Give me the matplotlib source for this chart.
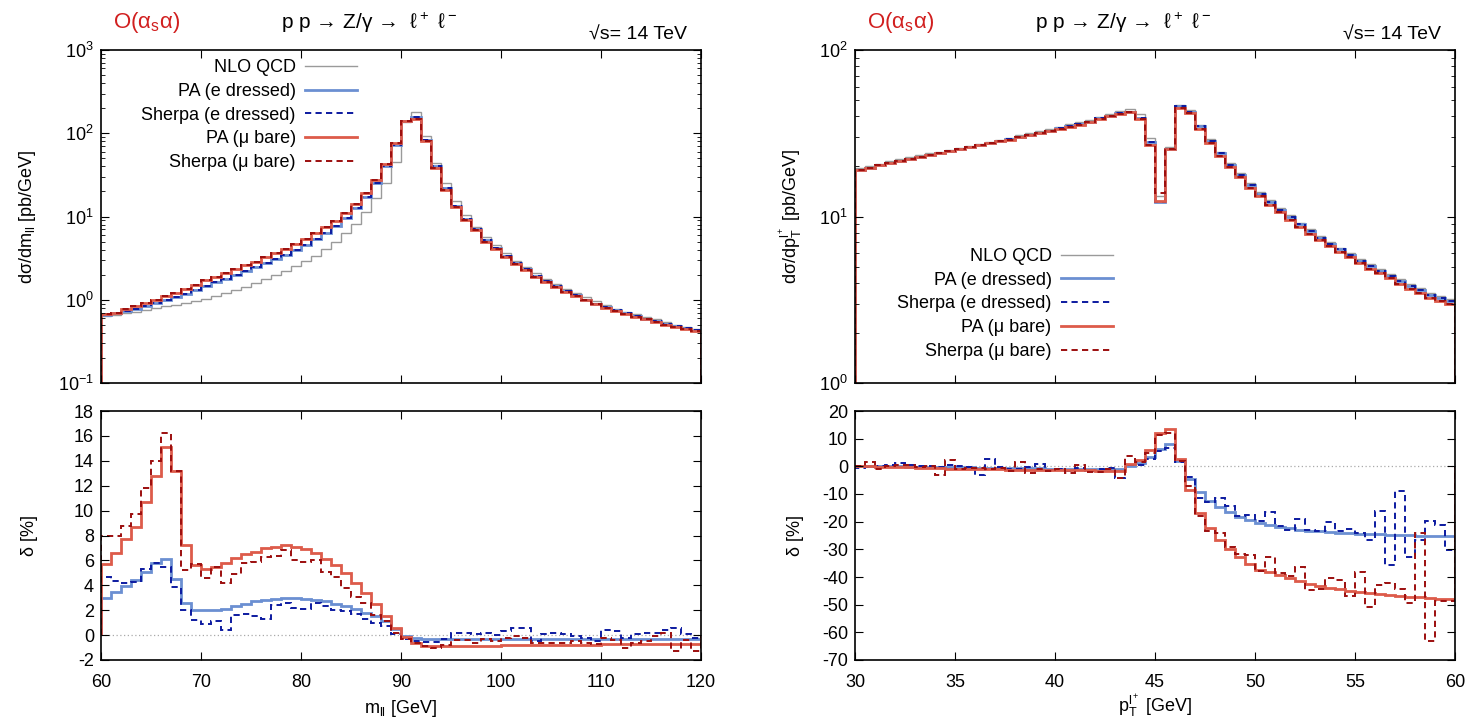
import numpy as np
import matplotlib.pyplot as plt
from matplotlib.lines import Line2D
from matplotlib.ticker import LogLocator, MultipleLocator, NullFormatter

plt.rcParams['font.family'] = ['Liberation Sans Narrow', 'Liberation Sans', 'DejaVu Sans']
plt.rcParams['mathtext.default'] = 'regular'
plt.rcParams['axes.unicode_minus'] = False

# ---- m_ll spectrum, 1 GeV bins from 60 to 120 ----
m_edges = np.arange(60, 121, 1)
nlo_m = [0.64, 0.66, 0.69, 0.72, 0.75, 0.79, 0.83, 0.87, 0.92, 0.97,
         1.03, 1.11, 1.20, 1.31, 1.44, 1.58, 1.76, 1.97, 2.22, 2.52,
         2.90, 3.40, 4.10, 5.00, 6.30, 8.20, 11.3, 16.5, 25.0, 45.0,
         135, 180, 92, 44, 25, 15.3, 10.3, 7.5, 5.7, 4.5,
         3.6, 2.95, 2.47, 2.08, 1.79, 1.55, 1.36, 1.20, 1.07, 0.96,
         0.86, 0.78, 0.72, 0.67, 0.62, 0.58, 0.54, 0.50, 0.47, 0.45]
pa_e_m = [0.66, 0.69, 0.73, 0.78, 0.84, 0.92, 1.00, 1.07, 1.18, 1.32,
          1.47, 1.62, 1.79, 1.98, 2.19, 2.44, 2.74, 3.09, 3.48, 3.97,
          4.55, 5.35, 6.40, 7.70, 9.60, 12.6, 17.2, 25.0, 40.0, 73.0,
          142, 158, 84, 40, 22, 13.5, 9.3, 7.0, 5.2, 4.15,
          3.33, 2.77, 2.31, 1.95, 1.68, 1.46, 1.27, 1.13, 1.00, 0.90,
          0.81, 0.75, 0.69, 0.64, 0.59, 0.55, 0.51, 0.48, 0.46, 0.43]
pa_mu_m = [0.68, 0.70, 0.77, 0.83, 0.91, 1.00, 1.10, 1.20, 1.35, 1.52,
           1.73, 1.89, 2.10, 2.33, 2.60, 2.88, 3.24, 3.67, 4.10, 4.70,
           5.40, 6.30, 7.50, 8.80, 11.0, 14.3, 19.1, 27.2, 42.5, 75.7,
           140, 150, 80, 38.5, 21, 13.0, 9.0, 6.8, 5.0, 4.05,
           3.24, 2.70, 2.25, 1.90, 1.64, 1.42, 1.24, 1.10, 0.98, 0.88,
           0.79, 0.73, 0.67, 0.62, 0.58, 0.54, 0.50, 0.47, 0.45, 0.42]
sh_e_m = list(pa_e_m)
sh_mu_m = list(pa_mu_m)

d_pa_e_m = [3.0, 3.5, 3.95, 4.4, 5.1, 5.8, 6.1, 4.5, 2.6, 2.0,
            2.0, 2.0, 2.1, 2.3, 2.5, 2.7, 2.8, 2.9, 2.95, 2.95,
            2.9, 2.8, 2.7, 2.5, 2.3, 2.1, 1.8, 1.5, 1.15, 0.5,
            -0.1, -0.25, -0.3, -0.3, -0.3, -0.3, -0.3, -0.3, -0.3, -0.3,
            -0.3, -0.3, -0.3, -0.3, -0.3, -0.3, -0.3, -0.3, -0.3, -0.3,
            -0.3, -0.3, -0.32, -0.32, -0.32, -0.33, -0.33, -0.33, -0.34, -0.35]
d_sh_e_m = [4.7, 4.35, 4.2, 4.3, 5.3, 5.8, 5.5, 3.9, 2.0, 1.2,
            0.9, 1.15, 0.4, 1.6, 1.7, 1.5, 1.3, 2.4, 2.6, 2.2,
            2.1, 2.6, 2.3, 2.0, 1.9, 1.7, 1.3, 1.0, 0.7, 0.1,
            -0.35, -0.5, -0.55, -0.55, -0.3, 0.2, 0.2, 0.1, 0.2, 0.0,
            0.3, 0.6, 0.55, -0.5, 0.1, 0.15, 0.1, -0.1, -0.25, -0.45,
            0.4, 0.35, -0.25, 0.1, 0.15, 0.15, 0.4, 0.6, 0.1, -0.25]
d_pa_mu_m = [5.7, 6.6, 7.7, 8.7, 10.7, 12.8, 15.1, 13.2, 7.2, 5.6,
             5.3, 5.5, 5.8, 6.2, 6.5, 6.7, 7.0, 7.1, 7.2, 7.1,
             6.9, 6.6, 6.1, 5.6, 5.0, 4.2, 3.4, 2.5, 1.5, 0.6,
             -0.15, -0.65, -0.85, -0.88, -0.88, -0.87, -0.86, -0.85, -0.85, -0.84,
             -0.83, -0.82, -0.81, -0.8, -0.8, -0.79, -0.78, -0.77, -0.77, -0.76,
             -0.75, -0.75, -0.74, -0.74, -0.73, -0.73, -0.72, -0.72, -0.71, -0.7]
d_sh_mu_m = [8.0, 7.95, 8.8, 9.7, 11.8, 14.0, 16.2, 13.2, 5.2, 5.7,
             4.6, 5.5, 4.2, 4.9, 5.8, 5.9, 6.3, 6.35, 6.8, 6.0,
             5.9, 6.0, 5.1, 4.7, 3.8, 3.1, 2.6, 1.6, 1.1, 0.2,
             -0.3, -0.6, -0.85, -1.05, -0.8, -0.4, -0.4, -0.6, -0.3, -0.45,
             -0.25, -0.1, -0.2, -0.6, -0.6, -0.6, -0.6, -0.45, -0.6, -0.7,
             -0.2, -0.4, -1.0, -0.6, -0.45, -0.05, 0.2, -1.25, -0.4, -1.3]

# ---- pT(l+) spectrum, 0.5 GeV bins from 30 to 60 ----
pt_edges = np.arange(30, 60.01, 0.5)
nlo_pt = [19.5, 20.0, 20.8, 21.4, 22.0, 22.7, 23.3, 23.9, 24.5, 25.2,
          25.9, 26.6, 27.4, 28.2, 29.0, 29.8, 30.7, 31.7, 32.6, 33.6,
          34.7, 35.8, 36.9, 38.1, 39.6, 41.3, 43.0, 44.2, 41.5, 29.5,
          13.2, 26.3, 46.5, 43.5, 35.5, 29.2, 24.5, 21.0, 18.2, 15.8,
          14.0, 12.5, 11.25, 10.15, 9.2, 8.37, 7.65, 7.05, 6.5, 6.04,
          5.58, 5.17, 4.84, 4.52, 4.19, 3.93, 3.70, 3.48, 3.32, 3.18]
pa_e_pt = [19.0, 19.6, 20.3, 21.0, 21.5, 22.2, 22.8, 23.4, 24.1, 24.7,
           25.3, 26.1, 26.8, 27.6, 28.4, 29.1, 30.0, 30.9, 31.8, 32.7,
           33.8, 34.8, 35.8, 36.9, 38.9, 40.4, 41.7, 42.6, 39.3, 28.0,
           12.2, 25.5, 45.8, 42.5, 34.8, 28.5, 23.9, 20.5, 17.8, 15.4,
           13.7, 12.2, 11.0, 9.9, 9.0, 8.17, 7.46, 6.87, 6.35, 5.88,
           5.43, 5.04, 4.72, 4.41, 4.08, 3.83, 3.60, 3.38, 3.23, 3.09]
pa_mu_pt = [19.1, 19.6, 20.4, 21.0, 21.5, 22.2, 22.8, 23.4, 24.0, 24.7,
            25.3, 26.0, 26.8, 27.5, 28.3, 29.0, 29.9, 30.8, 31.7, 32.6,
            33.6, 34.6, 35.6, 36.7, 38.5, 40.0, 41.2, 42.3, 38.3, 27.0,
            12.4, 25.5, 44.8, 41.6, 33.7, 27.6, 23.1, 19.8, 17.2, 14.9,
            13.2, 11.8, 10.6, 9.55, 8.67, 7.87, 7.20, 6.63, 6.12, 5.68,
            5.24, 4.86, 4.55, 4.25, 3.93, 3.69, 3.47, 3.26, 3.11, 2.98]
sh_e_pt = list(pa_e_pt)
sh_mu_pt = list(pa_mu_pt)
sh_mu_pt[30] = 13.8

d_pa_e_pt = [0.0, 0.1, 0.1, 0.1, 0.0, -0.1, -0.2, -0.2, -0.3, -0.3,
             -0.4, -0.4, -0.5, -0.5, -0.6, -0.6, -0.7, -0.7, -0.7, -0.8,
             -0.8, -0.8, -0.9, -0.9, -0.9, -1.0, -1.0, 0.3, 1.1, 3.2,
             6.4, 7.9, 1.8, -4.5, -9.3, -12.5, -14.6, -16.5, -18.3, -19.5,
             -20.6, -21.3, -21.9, -22.4, -22.9, -23.3, -23.5, -23.7, -24.0, -24.2,
             -24.3, -24.5, -24.6, -24.7, -24.8, -24.9, -25.0, -25.2, -25.2, -25.3]
d_sh_e_pt = [-0.7, -0.1, 0.3, 0.4, 1.3, 0.6, 0.1, 0.2, -0.2, 0.4,
             0.1, -0.1, -3.3, 2.5, -0.2, -1.1, -1.1, -0.1, 0.8, -1.3,
             -0.8, -1.6, -0.6, -1.6, -1.1, -0.6, -4.2, 0.4, 0.6, 2.8,
             5.5, 6.6, 1.5, -4.0, -11.6, -13.0, -11.5, -14.5, -18.0, -17.5,
             -19.8, -16.5, -21.5, -23.0, -18.9, -23.0, -23.3, -20.2, -23.3, -22.5,
             -24.0, -26.7, -16.2, -35.7, -9.0, -32.8, -26.7, -19.8, -21.3, -30.2]
d_pa_mu_pt = [0.0, 0.0, -0.1, -0.2, -0.3, -0.4, -0.5, -0.6, -0.7, -0.8,
              -0.8, -0.9, -1.0, -1.0, -1.1, -1.2, -1.2, -1.3, -1.3, -1.4,
              -1.4, -1.5, -1.5, -1.5, -1.6, -1.6, -1.6, 1.0, 2.2, 5.8,
              12.2, 13.4, 2.8, -8.7, -17.0, -22.2, -26.7, -30.0, -32.7, -35.2,
              -37.6, -38.3, -39.3, -40.2, -41.6, -42.6, -43.3, -44.0, -44.4, -44.9,
              -45.4, -45.7, -46.0, -46.4, -46.8, -47.1, -47.3, -47.6, -47.8, -48.0]
d_sh_mu_pt = [0.1, 1.6, -1.1, 0.0, 0.4, 0.6, -0.4, 0.1, -3.3, 2.3,
              -0.8, -0.5, -0.6, -1.1, -0.6, -1.7, 1.6, -2.3, -1.1, -1.8,
              -1.1, -2.3, 0.4, -2.0, -1.9, -1.1, -4.3, 3.8, 1.6, 5.0,
              11.5, 12.0, 2.0, -7.0, -17.8, -23.5, -24.2, -29.0, -31.7, -31.9,
              -38.0, -32.6, -38.6, -39.6, -36.5, -44.6, -44.3, -40.5, -41.0, -46.7,
              -38.3, -50.9, -42.8, -42.2, -44.3, -49.5, -24.2, -63.3, -48.5, -48.8]

labels = ["NLO QCD", "PA (e dressed)", "Sherpa (e dressed)", "PA (\u03bc bare)", "Sherpa (\u03bc bare)"]
styles = [
    dict(color="#9a9a9a", lw=1.0, ls="-"),
    dict(color="#6b8fd2", lw=2.0, ls="-"),
    dict(color="#0c1aa0", lw=1.4, ls=(0, (3.2, 2.2))),
    dict(color="#dd5b4a", lw=2.0, ls="-"),
    dict(color="#9c0e0e", lw=1.4, ls=(0, (3.2, 2.2))),
]

W, H = 1471, 722
fig = plt.figure(figsize=(W / 100, H / 100), dpi=100)


def box(x0, y0, x1, y1):
    return [x0 / W, 1 - y1 / H, (x1 - x0) / W, (y1 - y0) / H]


ax_mt = fig.add_axes(box(101, 50, 701, 383))
ax_mb = fig.add_axes(box(101, 411, 701, 660))
ax_pt = fig.add_axes(box(855, 50, 1455, 383))
ax_pb = fig.add_axes(box(855, 411, 1455, 660))

FS = 13


def draw(ax, edges, series, base):
    for vals, st in zip(series, styles):
        if vals is None:
            continue
        ax.stairs(vals, edges, baseline=base, **st)


draw(ax_mt, m_edges, [nlo_m, pa_e_m, sh_e_m, pa_mu_m, sh_mu_m], 1e-3)
draw(ax_mb, m_edges, [None, d_pa_e_m, d_sh_e_m, d_pa_mu_m, d_sh_mu_m], 0)
draw(ax_pt, pt_edges, [nlo_pt, pa_e_pt, sh_e_pt, pa_mu_pt, sh_mu_pt], 1e-3)
draw(ax_pb, pt_edges, [None, d_pa_e_pt, d_sh_e_pt, d_pa_mu_pt, d_sh_mu_pt], 0)

for ax in (ax_mt, ax_pt):
    ax.set_yscale("log")
    ax.yaxis.set_major_locator(LogLocator(base=10, numticks=10))
    ax.yaxis.set_minor_locator(LogLocator(base=10, subs=np.arange(2, 10), numticks=20))
    ax.yaxis.set_minor_formatter(NullFormatter())
    ax.tick_params(labelbottom=False)

ax_mt.set_ylim(0.1, 1000)
ax_pt.set_ylim(1, 100)
ax_mt.set_xlim(60, 120)
ax_mb.set_xlim(60, 120)
ax_pt.set_xlim(30, 60)
ax_pb.set_xlim(30, 60)
ax_mb.set_ylim(-2, 18)
ax_pb.set_ylim(-70, 20)
ax_mb.yaxis.set_major_locator(MultipleLocator(2))
ax_pb.yaxis.set_major_locator(MultipleLocator(10))
for ax in (ax_mt, ax_mb):
    ax.xaxis.set_major_locator(MultipleLocator(10))
for ax in (ax_pt, ax_pb):
    ax.xaxis.set_major_locator(MultipleLocator(5))

for ax in (ax_mt, ax_mb, ax_pt, ax_pb):
    ax.tick_params(which="both", direction="in", top=True, right=True, labelsize=FS)
    ax.tick_params(which="major", length=6, width=0.8)
    ax.tick_params(which="minor", length=3, width=0.6)
    ax.tick_params(axis="x", pad=10)
    ax.tick_params(axis="y", pad=5)
    for s in ax.spines.values():
        s.set_linewidth(1.2)

for ax in (ax_mb, ax_pb):
    ax.axhline(0, color="#aaaaaa", lw=0.9, ls=(0, (1, 2)), zorder=0)

ax_mt.set_ylabel("d\u03c3/dm$_{ll}$ [pb/GeV]", fontsize=FS)
ax_mb.set_ylabel("\u03b4 [%]", fontsize=FS)
ax_mb.set_xlabel("m$_{ll}$ [GeV]", fontsize=FS, labelpad=5)
ax_pt.set_ylabel("d\u03c3/dp$_T^{l^+}$ [pb/GeV]", fontsize=FS)
ax_pb.set_ylabel("\u03b4 [%]", fontsize=FS)
ax_pb.set_xlabel("p$_T^{l^+}$ [GeV]", fontsize=FS, labelpad=1)
for ax in (ax_mt, ax_mb):
    ax.yaxis.set_label_coords(-0.105, 0.5)
for ax in (ax_pt, ax_pb):
    ax.yaxis.set_label_coords(-0.085, 0.5)

handles = [Line2D([], [], **st) for st in styles]
leg_kw = dict(frameon=False, markerfirst=False, fontsize=FS, handlelength=2.9,
              labelspacing=0.37, handletextpad=0.5, borderpad=0, borderaxespad=0)
ax_mt.legend(handles, labels, loc="upper right", bbox_to_anchor=(0.427, 0.972), **leg_kw)
ax_pt.legend(handles, labels, loc="upper right", bbox_to_anchor=(0.43, 0.405), **leg_kw)

for ax in (ax_mt, ax_pt):
    ax.text(0.02, 1.045, "O(\u03b1$_s$\u03b1)", transform=ax.transAxes, color="#d11f1f",
            fontsize=FS + 3, ha="left", va="bottom")
    ax.text(0.447, 1.045, "p p \u2192 Z/\u03b3 \u2192  \u2113$^+$ \u2113$^-$", transform=ax.transAxes,
            fontsize=FS + 2, ha="center", va="bottom")
    ax.text(0.977, 1.02, "\u221as= 14 TeV", transform=ax.transAxes,
            fontsize=FS + 1, ha="right", va="bottom")

fig.savefig("out.png", dpi=100)
